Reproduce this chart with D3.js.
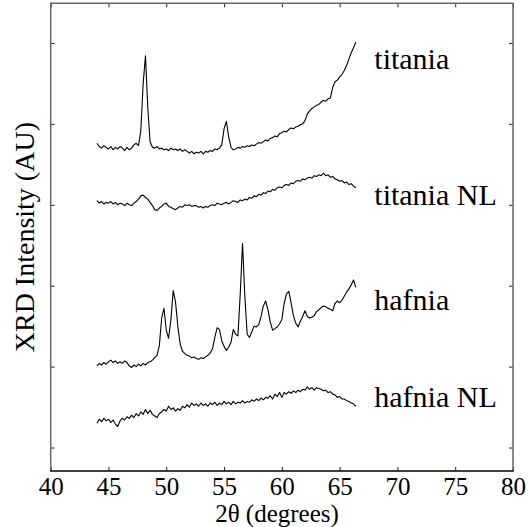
<!DOCTYPE html>
<html lang="en">
<head>
    <meta charset="UTF-8">
    <title>XRD patterns</title>
    <script src="https://d3js.org/d3.v7.min.js"></script>
    <style>
        body { margin: 0; background: #fff; }
    </style>
</head>
<body>
    <svg width="530" height="527"></svg>

    <script>
        // 2-theta sampling grid, 44.0 to 66.4 degrees in 0.2 steps
        const angles = d3.range(440, 665, 2).map(d => d / 10);

        // intensities (arbitrary units, offset per trace)
        const titania = [
            376, 372, 370, 373, 371, 369, 372, 368, 371, 369,
            372, 370, 367, 371, 368, 370, 374, 376, 373, 392,
            450, 484, 420, 378, 371, 370, 372, 369, 370, 368,
            369, 367, 370, 368, 369, 367, 369, 366, 368, 366,
            364, 366, 363, 365, 364, 366, 363, 366, 365, 367,
            366, 369, 368, 370, 374, 394, 403, 384, 371, 368,
            369, 371, 370, 372, 371, 373, 372, 374, 373, 375,
            377, 376, 378, 380, 379, 382, 383, 385, 384, 388,
            389, 391, 390, 393, 395, 394, 396, 397, 399, 400,
            404, 412, 416, 419, 421, 423, 424, 427, 429, 428,
            431, 432, 445, 452, 454, 458, 461, 466, 472, 480,
            488, 494, 501
        ];
        const titaniaNL = [
            305, 302, 304, 301, 303, 302, 304, 301, 303, 300,
            302, 301, 299, 302, 300, 299, 302, 304, 307, 311,
            312, 309, 307, 303, 299, 294, 293, 296, 298, 301,
            302, 298, 297, 295, 294, 296, 298, 297, 300, 299,
            300, 298, 299, 299, 297, 298, 296, 298, 297, 299,
            300, 299, 302, 301, 300, 302, 303, 301, 303, 305,
            304, 303, 306, 305, 307, 306, 309, 308, 311, 310,
            313, 312, 315, 314, 317, 316, 319, 318, 321, 322,
            321, 324, 325, 324, 327, 326, 329, 330, 329, 332,
            331, 333, 334, 333, 336, 335, 337, 336, 339, 336,
            337, 334, 335, 332, 331, 329, 330, 327, 328, 325,
            326, 323, 321
        ];
        const hafnia = [
            101, 104, 102, 105, 103, 106, 108, 105, 107, 104,
            106, 104, 107, 105, 101, 99, 102, 100, 103, 101,
            104, 102, 105, 106, 108, 111, 114, 126, 160, 172,
            145, 135, 158, 194, 180, 150, 128, 119, 116, 114,
            113, 111, 112, 110, 109, 111, 110, 112, 114, 117,
            122, 136, 148, 146, 132, 125, 120, 124, 130, 146,
            140, 138, 190, 252, 186, 140, 136, 143, 150, 149,
            152, 162, 175, 181, 170, 155, 145, 147, 149, 153,
            158, 178, 190, 193, 179, 163, 154, 149, 156, 162,
            169, 162, 160, 161, 163, 168, 170, 173, 175, 174,
            172, 171, 169, 178, 181, 179, 182, 187, 192, 196,
            201, 207, 198
        ];
        const hafniaNL = [
            30, 35, 32, 36, 33, 35, 31, 34, 29, 26,
            33, 36, 34, 38, 36, 40, 37, 42, 39, 44,
            41, 47, 42, 46, 41, 39, 37, 42, 44, 47,
            45, 51, 47, 49, 45, 48, 46, 51, 49, 53,
            50, 55, 52, 54, 51, 55, 52, 54, 51, 55,
            53, 56, 52, 55, 53, 57, 54, 56, 53, 57,
            54, 56, 55, 58, 55, 57, 56, 59, 57, 60,
            58, 61, 59, 62, 61, 64, 60, 66, 63, 68,
            62, 68, 66, 69, 67, 70, 68, 71, 69, 72,
            71, 75, 72, 74, 71, 74, 73, 72, 70, 71,
            68, 69, 66, 65, 62, 63, 60, 60, 58, 57,
            55, 54, 51
        ];

        const seriesNames = ["titania", "titania NL", "hafnia", "hafnia NL"];
        const seriesValues = [titania, titaniaNL, hafnia, hafniaNL];
        // where each name sits, in axis units
        const labelAngle = 68.0;
        const labelLevels = [468, 300, 170, 50];

        const xTicks = [40, 45, 50, 55, 60, 65, 70, 75, 80];
        const yTicks = [0, 100, 200, 300, 400, 500];

        const width = 530;
        const height = 527;
        const margin = {top: 3.3, right: 17, bottom: 56, left: 50.7};
        const font = "'Liberation Serif', 'Times New Roman', serif";

        const svg = d3.select("svg");

        const x = d3.scaleLinear()
            .domain([40, 80])
            .range([margin.left, width - margin.right]);

        const y = d3.scaleLinear()
            .domain([-29, 549])
            .range([height - margin.bottom, margin.top]);

        // ticks on all four sides, pointing inward
        const gx = svg.append("g")
            .attr("transform", `translate(0,${height - margin.bottom})`)
            .call(d3.axisBottom(x).tickValues(xTicks).tickSizeInner(-4).tickSizeOuter(0).tickPadding(6));
        gx.selectAll("text")
            .style("font-family", font)
            .style("font-size", "25px")
            .attr("fill", "#000");

        svg.append("g")
            .attr("transform", `translate(0,${margin.top})`)
            .call(d3.axisTop(x).tickValues(xTicks).tickSizeInner(-4).tickSizeOuter(0).tickFormat(""));

        svg.append("g")
            .attr("transform", `translate(${margin.left},0)`)
            .call(d3.axisLeft(y).tickValues(yTicks).tickSizeInner(-4).tickSizeOuter(0).tickFormat(""));

        svg.append("g")
            .attr("transform", `translate(${width - margin.right},0)`)
            .call(d3.axisRight(y).tickValues(yTicks).tickSizeInner(-4).tickSizeOuter(0).tickFormat(""));

        svg.selectAll(".domain").remove();
        svg.selectAll(".tick line").attr("stroke", "#222").attr("stroke-width", 1);

        // frame: grey on three sides, black along the bottom
        const x0 = x.range()[0], x1 = x.range()[1];
        const y0 = y.range()[0], y1 = y.range()[1];
        svg.append("path")
            .attr("d", `M${x0},${y0}V${y1}H${x1}V${y0}`)
            .attr("fill", "none")
            .attr("stroke", "#666")
            .attr("stroke-width", 1.5);
        svg.append("line")
            .attr("x1", x0 - 0.7).attr("x2", x1 + 0.7)
            .attr("y1", y0).attr("y2", y0)
            .attr("stroke", "#000")
            .attr("stroke-width", 1.5);

        // the four traces
        const line = d3.line()
            .x((d, i) => x(angles[i]))
            .y(d => y(d));

        svg.append("g")
            .selectAll("path")
            .data(seriesValues)
            .enter()
            .append("path")
            .attr("d", d => line(d.slice(0, angles.length)))
            .attr("fill", "none")
            .attr("stroke", "#000")
            .attr("stroke-width", 1.1)
            .attr("stroke-linejoin", "round");

        // trace names
        svg.append("g")
            .selectAll("text")
            .data(seriesNames)
            .enter()
            .append("text")
            .attr("x", x(labelAngle))
            .attr("y", (d, i) => y(labelLevels[i]))
            .style("font-family", font)
            .style("font-size", "30px")
            .text(d => d);

        // axis titles
        svg.append("text")
            .attr("text-anchor", "middle")
            .attr("x", 277)
            .attr("y", 522)
            .style("font-family", font)
            .style("font-size", "25px")
            .text("2θ (degrees)");

        svg.append("text")
            .attr("text-anchor", "middle")
            .attr("transform", `translate(34,${(y0 + y1) / 2}) rotate(-90)`)
            .style("font-family", font)
            .style("font-size", "28px")
            .text("XRD Intensity (AU)");
    </script>
</body>
</html>
